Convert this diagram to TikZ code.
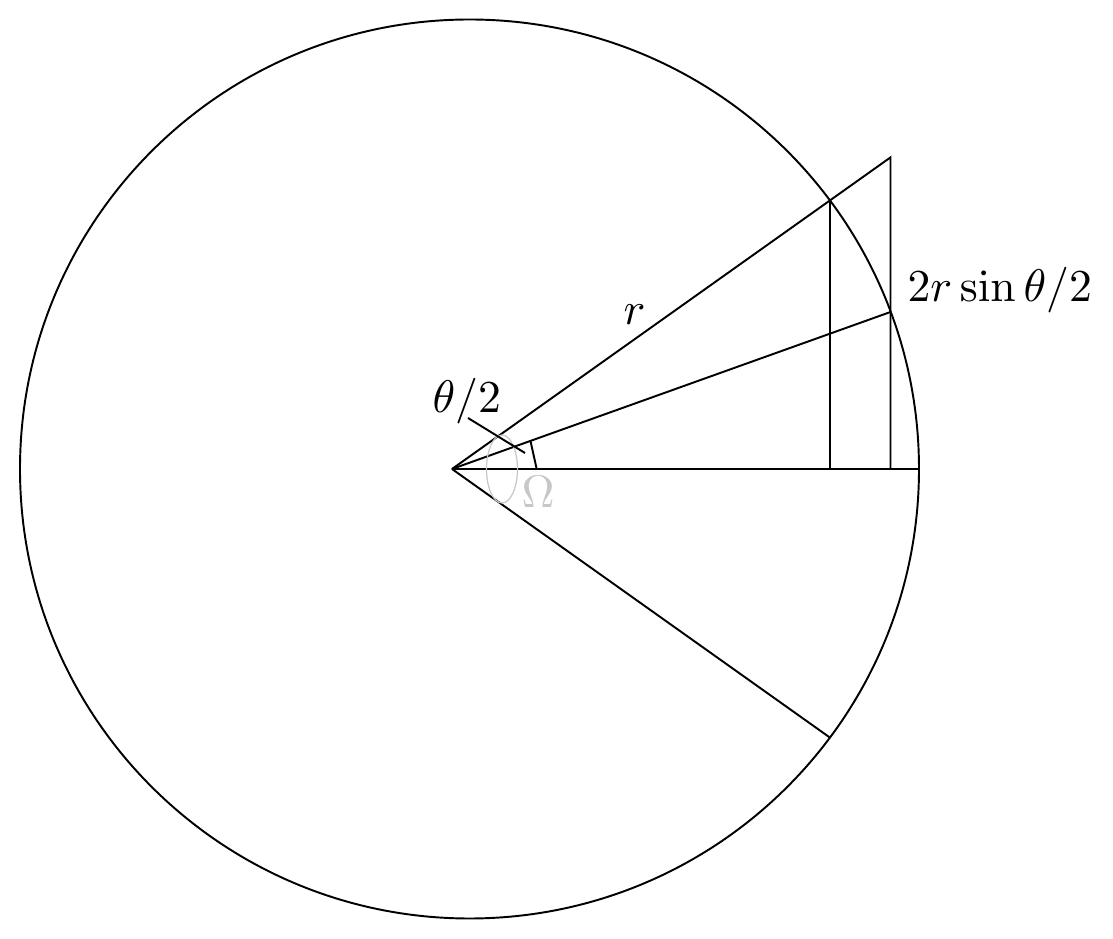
\documentclass[tikz,border=0pt]{standalone}
\usepackage{amsmath, amssymb}
\usepackage{xcolor}
\usetikzlibrary{calc}

\begin{document}
\begin{tikzpicture}[x=0.02cm, y=0.02cm, line width=1.1pt,
    lbl/.style={inner sep=0pt, scale=2.6},
    mo/.style={black!22, line width=0.7pt}]
    \useasboundingbox (-452,-470) rectangle (661,469);
    % 1. Các điểm
    \coordinate (O) at (0,0);
    \coordinate (C) at (17.5,0);
    \coordinate (A) at (35.4:463.65);
    \coordinate (B) at (-35.4:463.65);
    \coordinate (M) at (438.5,157);
    \coordinate (T) at (438.5,311.6);
    \coordinate (E) at (467,0);
    \coordinate (H) at (A |- O);
    \coordinate (K) at (T |- O);

    % 2. Đường tròn
    \draw (C) circle (449.5);

    % 3. Các đoạn thẳng
    \draw (O) -- (T) -- (K);
    \draw (O) -- (M);
    \draw (O) -- (B);
    \draw (O) -- (E);
    \draw (A) -- (H);

    % 4. Góc và nhãn
    \coordinate (t1) at (19.4:83.3);
    \coordinate (t2) at (84.7,0);
    \draw (t1) -- (t2);
    \draw[mo] (50,0) ellipse (15.5 and 34);
    \coordinate (g1) at (16,51);
    \coordinate (g2) at (73,16);
    \draw (g1) -- (g2);
    \node[lbl, anchor=base west] (goc) at (-22,56) {$\theta/2$};
    \node[lbl, anchor=base west] (bk) at (169,144) {$r$};
    \node[lbl, anchor=base west] (day) at (453,167) {$2r\sin\theta/2$};
    \node[lbl, anchor=base, black!22] (om) at (86,-39) {$\Omega$};
\end{tikzpicture}
\end{document}
